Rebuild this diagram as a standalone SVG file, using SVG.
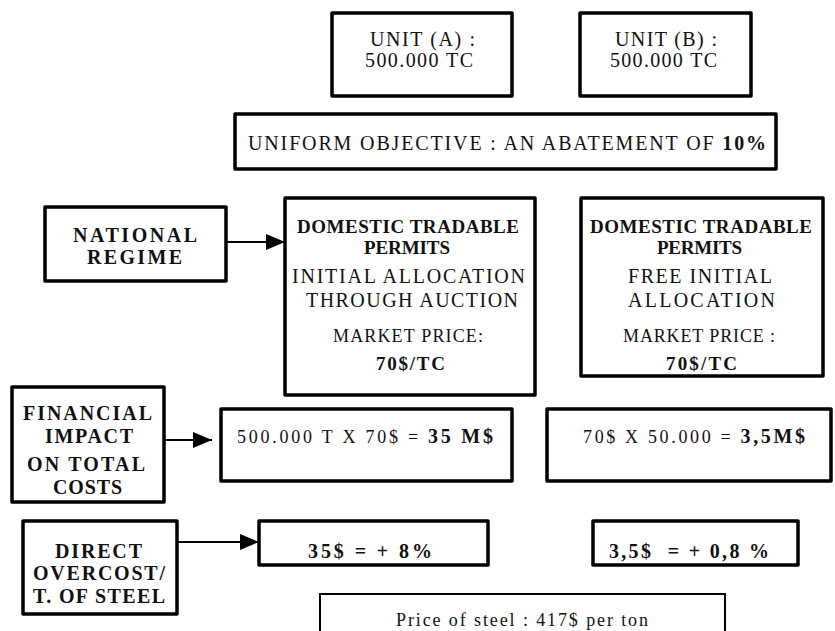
<svg xmlns="http://www.w3.org/2000/svg" width="835" height="631" viewBox="0 0 835 631">
<style>
.box{fill:#fff;stroke:#000;stroke-width:3.5;stroke-linejoin:round}
.thin{fill:#fff;stroke:#000;stroke-width:2}
text{font-family:'Liberation Serif','Times New Roman',serif;fill:#111;font-size:20px}
.b{font-weight:bold}
.s18{font-size:18px}
.s19{font-size:19px}
.con{stroke:#000;stroke-width:2;fill:none}
</style>
<defs>
<marker id="ah" markerUnits="userSpaceOnUse" markerWidth="20" markerHeight="18" refX="19" refY="9" orient="auto">
<path d="M0,1 L19,9 L0,17 Z" fill="#000"/>
</marker>
</defs>
<rect width="835" height="631" fill="#fff"/>

<g id="unitA">
<rect class="box" x="332" y="13" width="180" height="83"/>
<text x="370" y="46" textLength="105" lengthAdjust="spacing">UNIT (A) :</text>
<text x="365" y="67" textLength="108" lengthAdjust="spacing">500.000 TC</text>
</g>

<g id="unitB">
<rect class="box" x="580" y="13" width="171" height="83"/>
<text x="615" y="46" textLength="102" lengthAdjust="spacing">UNIT (B) :</text>
<text x="610" y="67" textLength="107" lengthAdjust="spacing">500.000 TC</text>
</g>

<g id="objective">
<rect class="box" x="235" y="114" width="541" height="55"/>
<text x="248" y="150" textLength="518" lengthAdjust="spacing">UNIFORM OBJECTIVE : AN ABATEMENT OF <tspan class="b">10%</tspan></text>
</g>

<g id="national">
<rect class="box" x="45" y="207" width="181" height="74"/>
<text class="b" x="73" y="242" textLength="124" lengthAdjust="spacing">NATIONAL</text>
<text class="b" x="87" y="264" textLength="95" lengthAdjust="spacing">REGIME</text>
</g>

<g id="dtp1">
<rect class="box" x="285" y="198" width="250" height="197"/>
<text class="b s19" x="297" y="233" textLength="222" lengthAdjust="spacing">DOMESTIC TRADABLE</text>
<text class="b s19" x="364" y="254" textLength="86" lengthAdjust="spacing">PERMITS</text>
<text x="292" y="283" textLength="233" lengthAdjust="spacing">INITIAL ALLOCATION</text>
<text x="306" y="307" textLength="212" lengthAdjust="spacing">THROUGH AUCTION</text>
<text class="s18" x="333" y="342" textLength="150" lengthAdjust="spacing">MARKET PRICE:</text>
<text class="b s19" x="376" y="370" textLength="69" lengthAdjust="spacing">70$/TC</text>
</g>

<g id="dtp2">
<rect class="box" x="581" y="198" width="242" height="178"/>
<text class="b s19" x="590" y="233" textLength="222" lengthAdjust="spacing">DOMESTIC TRADABLE</text>
<text class="b s19" x="657" y="254" textLength="85" lengthAdjust="spacing">PERMITS</text>
<text x="628" y="283" textLength="144" lengthAdjust="spacing">FREE INITIAL</text>
<text x="628" y="307" textLength="147" lengthAdjust="spacing">ALLOCATION</text>
<text class="s18" x="623" y="342" textLength="152" lengthAdjust="spacing">MARKET PRICE :</text>
<text class="b s19" x="666" y="370" textLength="71" lengthAdjust="spacing">70$/TC</text>
</g>

<g id="financial">
<rect class="box" x="12" y="387" width="152" height="115"/>
<text class="b" x="23" y="420" textLength="129" lengthAdjust="spacing">FINANCIAL</text>
<text class="b" x="45" y="443" textLength="88" lengthAdjust="spacing">IMPACT</text>
<text class="b" x="27" y="471" textLength="118" lengthAdjust="spacing">ON TOTAL</text>
<text class="b" x="53" y="494" textLength="69" lengthAdjust="spacing">COSTS</text>
</g>

<g id="impactA">
<rect class="box" x="221" y="409" width="291" height="72"/>
<text class="s18" x="237" y="443" textLength="256" lengthAdjust="spacing">500.000 T X 70$ = <tspan class="b" style="font-size:20px">35 M$</tspan></text>
</g>

<g id="impactB">
<rect class="box" x="547" y="409" width="284" height="72"/>
<text class="s18" x="583" y="443" textLength="222" lengthAdjust="spacing">70$ X 50.000 = <tspan class="b" style="font-size:20px">3,5M$</tspan></text>
</g>

<g id="direct">
<rect class="box" x="23" y="521" width="154" height="93"/>
<text class="b" x="55" y="558" textLength="87" lengthAdjust="spacing">DIRECT</text>
<text class="b" x="33" y="580" textLength="132" lengthAdjust="spacing">OVERCOST/</text>
<text class="b" x="33" y="603" textLength="132" lengthAdjust="spacing">T. OF STEEL</text>
</g>

<g id="overcostA">
<rect class="box" x="259" y="521" width="229" height="44"/>
<text class="b" x="308" y="558" textLength="124" lengthAdjust="spacing">35$ = + 8%</text>
</g>

<g id="overcostB">
<rect class="box" x="593" y="521" width="205" height="44"/>
<text class="b" x="609" y="558" textLength="160" lengthAdjust="spacing" xml:space="preserve">3,5$  = + 0,8 %</text>
</g>

<g id="steel">
<rect class="thin" x="320" y="594" width="405" height="50"/>
<text class="s18" x="396" y="626" textLength="252" lengthAdjust="spacing">Price of steel : 417$ per ton</text>
</g>

<g id="connectors">
<line class="con" x1="226" y1="242" x2="285" y2="242" marker-end="url(#ah)"/>
<line class="con" x1="164" y1="440" x2="212" y2="440" marker-end="url(#ah)"/>
<line class="con" x1="177" y1="542" x2="259" y2="542" marker-end="url(#ah)"/>
</g>
</svg>
